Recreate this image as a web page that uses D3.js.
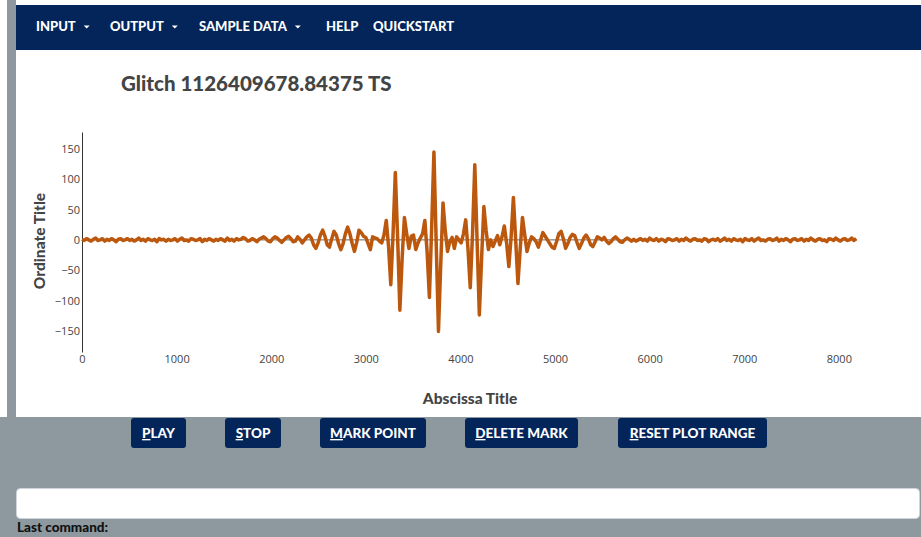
<!DOCTYPE html>
<html>
<head>
<meta charset="utf-8">
<script src="https://cdn.jsdelivr.net/npm/d3@7"></script>
<style>
  html, body { margin: 0; padding: 0; background: #fff; overflow: hidden; }
  svg { display: block; }
</style>
</head>
<body>
<svg id="page" width="921" height="537"></svg>
<script>
// ---------- data ----------
const chartTitle = "Glitch 1126409678.84375 TS";
const xTitle = "Abscissa Title";
const yTitle = "Ordinate Title";
const sampleStep = 24;           // samples between stored points
const sampleCount = 8192;
const xTicks = [0, 1000, 2000, 3000, 4000, 5000, 6000, 7000, 8000];
const yTicks = [-150, -100, -50, 0, 50, 100, 150];
const yDomain = [-185, 178];
const menuItems = ["INPUT", "OUTPUT", "SAMPLE DATA", "HELP", "QUICKSTART"];
const menuHasCaret = [true, true, true, false, false];
const buttonLabels = ["PLAY", "STOP", "MARK POINT", "DELETE MARK", "RESET PLOT RANGE"];

// strain values, one every sampleStep samples
const quietStart = [
  1, -1, 2, 0, -2, 1, 3, -1, 0, 2, -2, 1, -1, 2, 0, -3, 1, 2, -1, 0,
  2, -1, 1, -2, 0, 3, -1, 1, -2, 2, 0, -1, 1, -3, 2, 0, 1, -2, 1, -1,
  0, 2, -2, 1, 3, -1, 0, -2, 2, 1, -1, 0, 2, -3, 1, -1, 2, 0, -2, 1,
  -1, 2, 0, -2, 3, -1, 1, -2, 2, 0
];
const rampUp = [1, 4, 2, -2, -1, 2, 0, -3, 1, 3, 5, 2, -2, -3, 2, 5, 3, -1, -4, 0, 4, 6, 2, -3, -2];
const glitch = [
  5, 1, -5, 0, 5, 8, 3, -8, -14, -5,
  8, 16, 6, -8, -12, 2, 14, 8, -6, -16,
  -6, 10, 21, 10, -6, -19, -4, 16, 12, 6,
  4, -6, -16, 5, 3, 2, -2, -5, 8, 32,
  -10, -74, 10, 111, 5, -116, -30, 37, 10, -14,
  6, 8, -16, -5, 3, 10, 32, -20, -95, 20,
  145, -5, -151, -40, 61, 15, -19, -3, 4, -14,
  5, 0, -5, 10, 33, -15, -79, 10, 124, 0,
  -124, -30, 55, 15, -16, 0, -11, -2, 7, -8,
  5, 23, -5, -44, 5, 70, 0, -72, -15, 37,
  8, -19, -5, 5, 2, -3, -12, 0, 12, 6,
  0, -6, -12, -14, -3, 10, 14, 2, -14, -6,
  4, 9, 7, -4, -14, -6, 3, 8, 2, -8,
  -11, -3, 5, 3, 0, 4, -2, -6, -3, 2,
  5, 1, -3, -4, 0, 3, 1, -2
];
const quietEnd = [
  1, -2, 0, 2, -1, 1, -2, 3, 0, -1, 2, -2, 1, 0, -3, 2, 1, -1, 0, 2,
  -2, 1, -1, 3, 0, -2, 1, 2, -1, 0, -2, 2, 1, -3, 0, 1, -1, 2, -2, 0,
  3, -1, 1, -2, 2, 0, -1, 1, -3, 2, 0, -1, 2, -2, 1, 3, -1, 0, -2, 1,
  2, -1, 0, 3, -2, 1, -1, 2, 0, -3, 1, 2, -1, 0, 2, -2, 1, -1, 3, 0,
  -2, 1, 2, -1, 0, -3, 2, 1, -1, 3, 0, -2, 1, 2, -1, 0, 3, -1, 2
];
const strain = [...quietStart, ...rampUp, ...glitch, ...quietEnd];

// ---------- page ----------
const svg = d3.select("#page");
const navy = "#03255a";
const gray = "#8e989f";
const uiFont = "Lato, 'Open Sans', sans-serif";

// backgrounds
svg.append("rect").attr("x", 0).attr("y", 0).attr("width", 921).attr("height", 537).attr("fill", gray);
svg.append("rect").attr("x", 0).attr("y", 0).attr("width", 7).attr("height", 417).attr("fill", "#fff");
svg.append("rect").attr("x", 7).attr("y", 0).attr("width", 914).attr("height", 5).attr("fill", "#fff");
svg.append("rect").attr("x", 7).attr("y", 0).attr("width", 9).attr("height", 537).attr("fill", gray);
svg.append("rect").attr("x", 16).attr("y", 5).attr("width", 905).attr("height", 45).attr("fill", navy);
svg.append("rect").attr("x", 16).attr("y", 50).attr("width", 905).attr("height", 367).attr("fill", "#fff");

// navbar menu
const menuX = [36, 110, 199, 326, 373];
const menu = svg.append("g").attr("font-family", uiFont).attr("font-weight", 900)
  .attr("font-size", 13).attr("fill", "#fff");
menuItems.forEach((m, i) => {
  const t = menu.append("text").attr("x", menuX[i]).attr("y", 31).text(m);
  if (menuHasCaret[i]) {
    const w = t.node().getComputedTextLength();
    const cx = menuX[i] + w + 11;
    menu.append("path")
      .attr("d", `M${cx - 3},25.5 L${cx + 3},25.5 L${cx},28.5 Z`)
      .attr("fill", "#fff");
  }
});

// ---------- chart ----------
const x = d3.scaleLinear().domain([0, sampleCount]).range([82, 857]);
const y = d3.scaleLinear().domain(yDomain).range([352, 132]);

svg.append("text").attr("x", 121).attr("y", 91)
  .attr("font-family", uiFont).attr("font-weight", 900).attr("font-size", 20.5)
  .attr("fill", "#444").text(chartTitle);

// zero line
svg.append("line").attr("x1", x(0)).attr("x2", x(sampleCount))
  .attr("y1", y(0)).attr("y2", y(0)).attr("stroke", "#666").attr("stroke-width", 1);

// y axis
const yAxis = d3.axisLeft(y).tickValues(yTicks).tickSize(0).tickPadding(2)
  .tickFormat(d => d < 0 ? "\u2212" + Math.abs(d) : String(d));
const gy = svg.append("g").attr("transform", `translate(${x(0)},0)`).call(yAxis);
gy.select(".domain").attr("stroke", "#333").attr("stroke-width", 1);
gy.selectAll("text").attr("font-family", "'Open Sans', sans-serif").attr("font-size", 11).attr("fill", "#444");

// x axis (labels only)
const xAxis = d3.axisBottom(x).tickValues(xTicks).tickSize(0).tickPadding(3).tickFormat(d3.format("d"));
const gx = svg.append("g").attr("transform", `translate(0,352)`).call(xAxis);
gx.select(".domain").remove();
gx.selectAll("text").attr("font-family", "'Open Sans', sans-serif").attr("font-size", 11).attr("fill", "#444");

// trace
const line = d3.line().x((d, i) => x(i * sampleStep)).y(d => y(d));
svg.append("path").datum(strain).attr("d", line)
  .attr("fill", "none").attr("stroke", "#bb580d").attr("stroke-width", 3.5)
  .attr("stroke-linejoin", "round");

// axis titles
svg.append("text").attr("x", 470).attr("y", 404).attr("text-anchor", "middle")
  .attr("font-family", uiFont).attr("font-weight", 900).attr("font-size", 15.5)
  .attr("fill", "#444").text(xTitle);
svg.append("text").attr("transform", "translate(45,241) rotate(-90)").attr("text-anchor", "middle")
  .attr("font-family", uiFont).attr("font-weight", 900).attr("font-size", 15.5)
  .attr("fill", "#444").text(yTitle);

// ---------- buttons ----------
const btnX = [131, 225, 320, 465, 618];
const btnW = [55, 56, 106, 113, 149];
buttonLabels.forEach((b, i) => {
  svg.append("rect").attr("x", btnX[i]).attr("y", 418).attr("width", btnW[i]).attr("height", 30)
    .attr("rx", 3).attr("fill", navy);
  const t = svg.append("text").attr("x", btnX[i] + btnW[i] / 2).attr("y", 438)
    .attr("text-anchor", "middle").attr("font-family", uiFont).attr("font-weight", 900)
    .attr("font-size", 13.5).attr("fill", "#fff");
  t.append("tspan").style("text-decoration", "underline").text(b[0]);
  t.append("tspan").text(b.slice(1));
});

// command box
svg.append("rect").attr("x", 16.5).attr("y", 488.5).attr("width", 903).attr("height", 30)
  .attr("rx", 4).attr("fill", "#fff").attr("stroke", "#ced4da");
svg.append("text").attr("x", 17).attr("y", 532).attr("font-family", uiFont).attr("font-weight", 900)
  .attr("font-size", 13.5).attr("fill", "#111").text("Last command:");
</script>
</body>
</html>
